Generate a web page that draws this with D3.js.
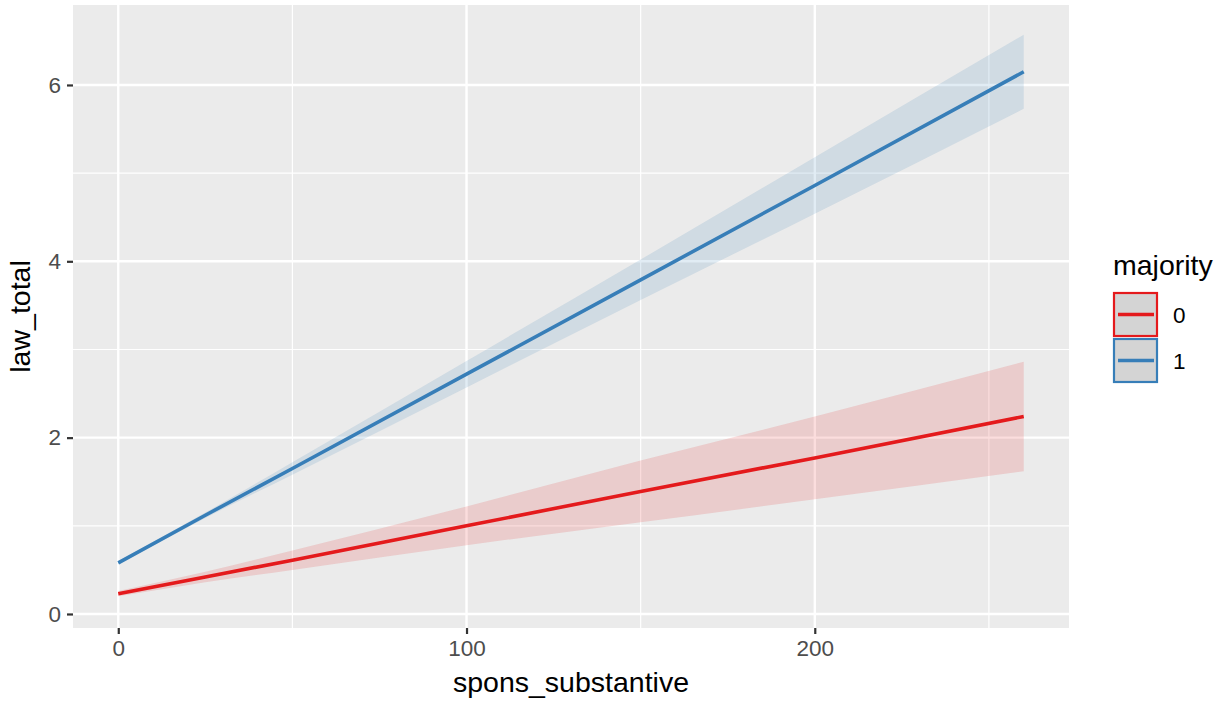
<!DOCTYPE html>
<html>
<head>
<meta charset="utf-8">
<script src="https://cdn.jsdelivr.net/npm/d3@7"></script>
<style>
  html, body { margin: 0; padding: 0; background: #ffffff; }
  svg { display: block; font-family: "Liberation Sans", Arial, Helvetica, sans-serif; }
</style>
</head>
<body>
<svg id="chart" width="1224" height="702"></svg>
<script>
// Fitted lines of law_total on spons_substantive, by majority status
const groups = ["0", "1"];
const groupColors = ["#E41A1C", "#377EB8"];

// x positions where the fit and its confidence band are evaluated
const xGrid = [0, 25, 50, 100, 150, 200, 260];

// majority = 0
const fit0   = [0.23, 0.42, 0.61, 1.00, 1.39, 1.77, 2.24];
const lower0 = [0.20, 0.36, 0.50, 0.78, 1.04, 1.30, 1.62];
const upper0 = [0.26, 0.48, 0.72, 1.22, 1.74, 2.24, 2.86];

// majority = 1
const fit1   = [0.58, 1.12, 1.65, 2.72, 3.79, 4.86, 6.15];
const lower1 = [0.56, 1.09, 1.58, 2.57, 3.56, 4.54, 5.73];
const upper1 = [0.60, 1.15, 1.72, 2.87, 4.02, 5.18, 6.57];

const xTicks = [0, 100, 200];
const xMinor = [50, 150, 250];
const yTicks = [0, 2, 4, 6];
const yMinor = [1, 3, 5];

const xTitle = "spons_substantive";
const yTitle = "law_total";
const legendTitle = "majority";

const series = [
  { key: groups[0], color: groupColors[0], fit: fit0, lo: lower0, hi: upper0 },
  { key: groups[1], color: groupColors[1], fit: fit1, lo: lower1, hi: upper1 }
];

const svg = d3.select("#chart");
const panel = { left: 73, right: 1069, top: 5, bottom: 628 };

const x = d3.scaleLinear().domain([-13, 273]).range([panel.left, panel.right]);
const y = d3.scaleLinear().domain([-0.159, 6.907]).range([panel.bottom, panel.top]);

// panel background
svg.append("rect")
  .attr("x", panel.left).attr("y", panel.top)
  .attr("width", panel.right - panel.left)
  .attr("height", panel.bottom - panel.top)
  .attr("fill", "#EBEBEB");

const grid = svg.append("g");
// minor grid
grid.selectAll(".xminor").data(xMinor).join("line")
  .attr("x1", d => x(d)).attr("x2", d => x(d))
  .attr("y1", panel.top).attr("y2", panel.bottom)
  .attr("stroke", "#ffffff").attr("stroke-width", 1.2);
grid.selectAll(".yminor").data(yMinor).join("line")
  .attr("y1", d => y(d)).attr("y2", d => y(d))
  .attr("x1", panel.left).attr("x2", panel.right)
  .attr("stroke", "#ffffff").attr("stroke-width", 1.2);
// major grid
grid.selectAll(".xmajor").data(xTicks).join("line")
  .attr("x1", d => x(d)).attr("x2", d => x(d))
  .attr("y1", panel.top).attr("y2", panel.bottom)
  .attr("stroke", "#ffffff").attr("stroke-width", 2.4);
grid.selectAll(".ymajor").data(yTicks).join("line")
  .attr("y1", d => y(d)).attr("y2", d => y(d))
  .attr("x1", panel.left).attr("x2", panel.right)
  .attr("stroke", "#ffffff").attr("stroke-width", 2.4);

// confidence bands
const area = d3.area()
  .x((d, i) => x(xGrid[i]))
  .y0(d => y(d.lo))
  .y1(d => y(d.hi))
  .curve(d3.curveMonotoneX);

const line = d3.line()
  .x((d, i) => x(xGrid[i]))
  .y(d => y(d))
  .curve(d3.curveLinear);

series.forEach(s => {
  const band = xGrid.map((_, i) => ({ lo: s.lo[i], hi: s.hi[i] }));
  svg.append("path")
    .datum(band)
    .attr("d", area)
    .attr("fill", s.color)
    .attr("fill-opacity", 0.15);
});
series.forEach(s => {
  svg.append("path")
    .datum(s.fit)
    .attr("d", line)
    .attr("fill", "none")
    .attr("stroke", s.color)
    .attr("stroke-width", 3.6);
});

// axes
const xAxis = svg.append("g")
  .attr("transform", `translate(0,${panel.bottom})`)
  .call(d3.axisBottom(x).tickValues(xTicks).tickSize(6).tickPadding(4).tickFormat(d3.format("d")));
const yAxis = svg.append("g")
  .attr("transform", `translate(${panel.left},0)`)
  .call(d3.axisLeft(y).tickValues(yTicks).tickSize(6).tickPadding(6).tickFormat(d3.format("d")));

[xAxis, yAxis].forEach(a => {
  a.select(".domain").remove();
  a.selectAll(".tick line").attr("stroke", "#333333").attr("stroke-width", 2.2);
  a.selectAll(".tick text")
    .attr("fill", "#4D4D4D")
    .style("font-size", "22.5px")
    .style("font-family", "'Liberation Sans', Arial, sans-serif");
});
xAxis.selectAll(".tick text").attr("dy", "0.78em");

// axis titles
svg.append("text")
  .attr("x", (panel.left + panel.right) / 2)
  .attr("y", 692)
  .attr("text-anchor", "middle")
  .attr("fill", "#000000")
  .style("font-size", "28.5px")
  .text(xTitle);

svg.append("text")
  .attr("transform", `translate(30,${(panel.top + panel.bottom) / 2}) rotate(-90)`)
  .attr("text-anchor", "middle")
  .attr("fill", "#000000")
  .style("font-size", "28.5px")
  .text(yTitle);

// legend
const legend = svg.append("g");
legend.append("text")
  .attr("x", 1113).attr("y", 275)
  .attr("fill", "#000000")
  .style("font-size", "28.5px")
  .text(legendTitle);

const keySize = 45;
const keyTop = 292;
series.forEach((s, i) => {
  const ky = keyTop + i * (keySize + 1);
  legend.append("rect")
    .attr("x", 1114).attr("y", ky + 1)
    .attr("width", keySize - 2).attr("height", keySize - 2)
    .attr("fill", "#D4D4D4")
    .attr("stroke", s.color)
    .attr("stroke-width", 2.2);
  legend.append("line")
    .attr("x1", 1118).attr("x2", 1154)
    .attr("y1", ky + keySize / 2).attr("y2", ky + keySize / 2)
    .attr("stroke", s.color)
    .attr("stroke-width", 3.6);
  legend.append("text")
    .attr("x", 1173).attr("y", ky + keySize / 2 + 8)
    .attr("fill", "#000000")
    .style("font-size", "22.5px")
    .text(s.key);
});
</script>
</body>
</html>
